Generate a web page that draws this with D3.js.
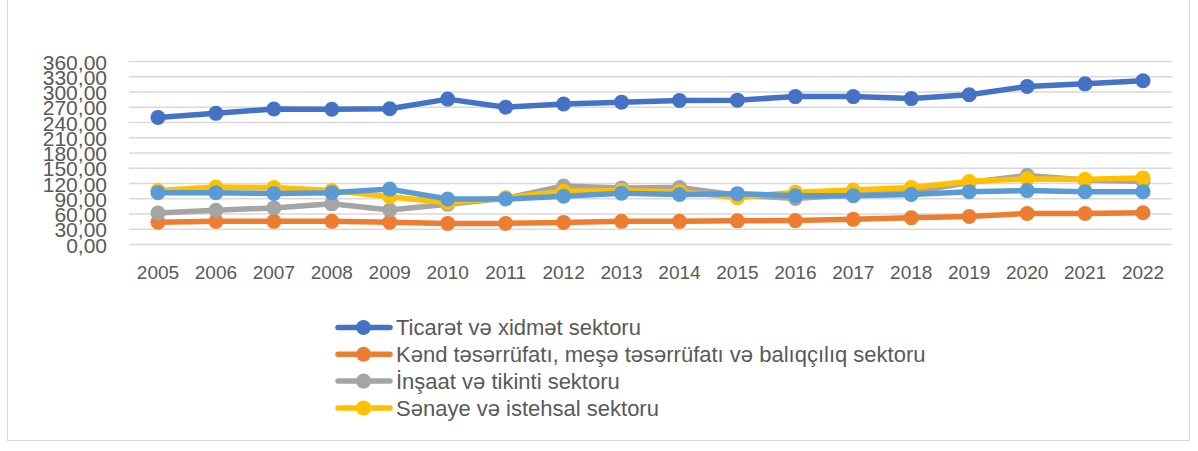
<!DOCTYPE html>
<html><head><meta charset="utf-8">
<script src="https://cdn.jsdelivr.net/npm/d3@7"></script>
<style>body{margin:0;background:#fff}svg{display:block}</style>
</head><body>
<svg id="c" width="1198" height="451"></svg>
<script>
const years = ["2005","2006","2007","2008","2009","2010","2011","2012","2013","2014","2015","2016","2017","2018","2019","2020","2021","2022"];
const yTicks = [0,30,60,90,120,150,180,210,240,270,300,330,360];
const ticaret = [250,258,266.5,266,267,286,270,276.5,280,283.5,284,291,291,287,294.5,311,316,322];
const kend = [44,45.5,45.5,45.5,44,41.5,41.5,43.5,45.5,45.5,46.5,47,49.5,52.5,55,61,61,62.5];
const insaat = [62,67.5,72,80,68,79,91,115,111,112,97,90.5,98,103,122,136,127,124];
const senaye = [106,113,112,106,94,82,92,105,106,104,92,103,107,112,124,129,128.5,131];
const diger = [102,102,100.5,102,109,89.5,89.5,95,101,98.5,100,96,96,98.5,104,106,104,104];
const names = ["Ticarət və xidmət sektoru","Kənd təsərrüfatı, meşə təsərrüfatı və balıqçılıq sektoru","İnşaat və tikinti sektoru","Sənaye və istehsal sektoru"];
const colors = ["#4472C4","#ED7D31","#A5A5A5","#FFC000","#5B9BD5"];
const seriesList = [ticaret,kend,insaat,senaye,diger];

const svg = d3.select("#c");
svg.append("rect").attr("x",7.5).attr("y",-2).attr("width",1182).attr("height",442.5)
  .attr("fill","#fff").attr("stroke","#D9D9D9").attr("stroke-width",1);

const x = d3.scaleBand().domain(years).range([129,1172]);
const y = d3.scaleLinear().domain([0,360]).range([244.5,61.5]);
const font = "'Liberation Sans', Arial, sans-serif";

const grid = svg.append("g");
grid.selectAll("line").data(yTicks).join("line")
  .attr("x1",129).attr("x2",1172).attr("y1",d=>y(d)).attr("y2",d=>y(d))
  .attr("stroke","#D9D9D9").attr("stroke-width",1.5);

const yAxis = svg.append("g").attr("transform","translate(107,0)")
  .call(d3.axisLeft(y).tickValues(yTicks).tickSize(0).tickPadding(0)
  .tickFormat(d=>d3.format(".2f")(d).replace(".",",")));
yAxis.select(".domain").remove();
yAxis.selectAll("text").attr("font-family",font).attr("font-size",21).attr("fill","#595959").attr("dy","0.36em");

const xAxis = svg.append("g").attr("transform","translate(0,244.5)")
  .call(d3.axisBottom(x).tickSize(0).tickPadding(21));
xAxis.select(".domain").remove();
xAxis.selectAll("text").attr("font-family",font).attr("font-size",19).attr("fill","#595959");

const cx = d => x(d) + x.bandwidth()/2;
const line = d3.line().x((d,i)=>cx(years[i])).y(d=>y(d));
seriesList.forEach((s,k)=>{
  const g = svg.append("g");
  g.append("path").attr("d",line(s)).attr("fill","none").attr("stroke",colors[k])
    .attr("stroke-width",5.5).attr("stroke-linejoin","round");
  g.selectAll("circle").data(s).join("circle")
    .attr("cx",(d,i)=>cx(years[i])).attr("cy",d=>y(d)).attr("r",7.5).attr("fill",colors[k]);
});

const leg = svg.append("g");
names.forEach((n,k)=>{
  const yy = 327.5 + k*26.8;
  leg.append("line").attr("x1",338).attr("x2",390).attr("y1",yy).attr("y2",yy)
    .attr("stroke",colors[k]).attr("stroke-width",5.5).attr("stroke-linecap","round");
  leg.append("circle").attr("cx",363.5).attr("cy",yy).attr("r",7.5).attr("fill",colors[k]);
  leg.append("text").attr("x",396).attr("y",yy).attr("dy","0.36em").text(n)
    .attr("font-family",font).attr("font-size",22).attr("fill","#595959");
});
</script>
</body></html>
